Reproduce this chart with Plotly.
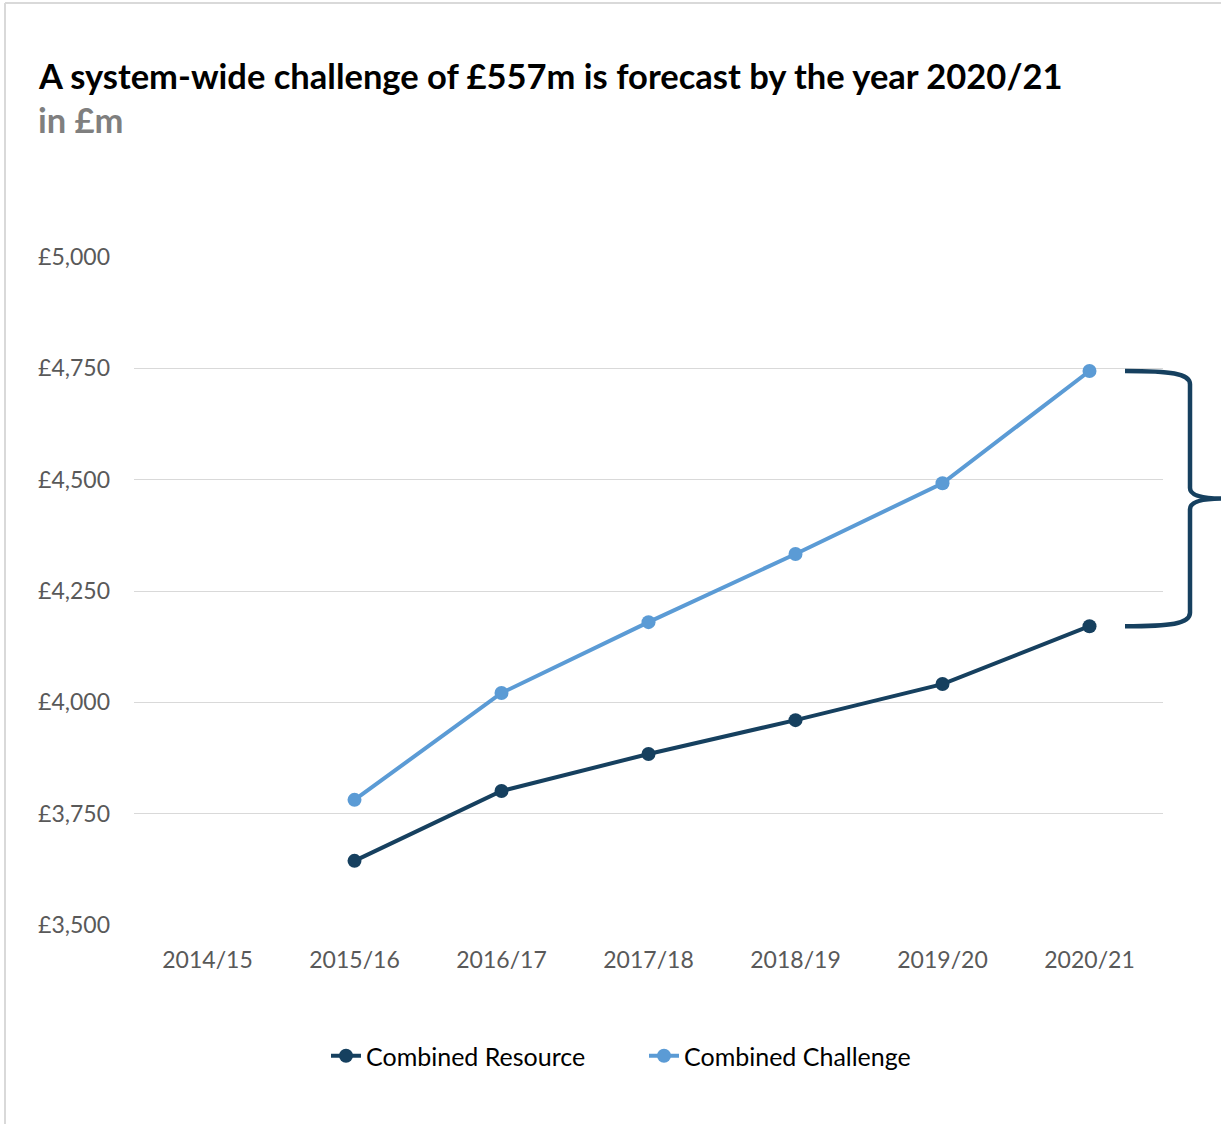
import plotly.graph_objects as go

years = ["2014/15", "2015/16", "2016/17", "2017/18", "2018/19", "2019/20", "2020/21"]
resource_years = ["2015/16", "2016/17", "2017/18", "2018/19", "2019/20", "2020/21"]
combined_resource = [3644, 3801, 3884, 3960, 4041, 4171]
combined_challenge = [3781, 4021, 4180, 4333, 4492, 4744]
y_ticks = [3500, 3750, 4000, 4250, 4500, 4750, 5000]
y_tick_labels = ["£3,500", "£3,750", "£4,000", "£4,250", "£4,500", "£4,750", "£5,000"]

DARK = "#16405F"
LIGHT = "#5B9BD5"
FONT = "Lato"

W, H = 1221, 1124
L, R, T, B = 134, 58, 257, 199
PW, PH = W - L - R, H - T - B

def px_x(x):
    return (x - L) / PW

def px_y(y):
    return (H - B - y) / PH

fig = go.Figure()
fig.add_trace(go.Scatter(
    x=resource_years, y=combined_resource, name="Combined Resource",
    mode="lines+markers", line=dict(color=DARK, width=4),
    marker=dict(size=14, color=DARK)))
fig.add_trace(go.Scatter(
    x=resource_years, y=combined_challenge, name="Combined Challenge",
    mode="lines+markers", line=dict(color=LIGHT, width=4),
    marker=dict(size=14, color=LIGHT)))

# brace between last values
ytop = combined_challenge[-1]
ybot = combined_resource[-1]
ymid = (ytop + ybot) / 2
d = 30
dm = 24
x0, x1, x2 = px_x(1125), px_x(1190), px_x(1224)
path = (f"M {x0},{ytop} C {px_x(1170)},{ytop} {x1},{ytop - 5} {x1},{ytop - d} "
        f"L {x1},{ymid + dm} C {x1},{ymid + 6} {px_x(1205)},{ymid} {x2},{ymid} "
        f"C {px_x(1205)},{ymid} {x1},{ymid - 6} {x1},{ymid - dm} "
        f"L {x1},{ybot + d} C {x1},{ybot + 5} {px_x(1170)},{ybot} {x0},{ybot}")

shapes = [
    dict(type="path", path=path, xref="paper", yref="y",
         line=dict(color=DARK, width=4.5)),
    dict(type="line", xref="paper", yref="paper",
         x0=px_x(5), x1=px_x(5), y0=px_y(3), y1=px_y(1130),
         line=dict(color="#D9D9D9", width=2)),
    dict(type="line", xref="paper", yref="paper",
         x0=px_x(5), x1=px_x(1230), y0=px_y(3), y1=px_y(3),
         line=dict(color="#D9D9D9", width=2)),
]

fig.update_layout(
    width=W, height=H,
    margin=dict(l=L, r=R, t=T, b=B),
    paper_bgcolor="white", plot_bgcolor="white",
    font=dict(family=FONT, size=23, color="#595959"),
    shapes=shapes,
    showlegend=True,
    legend=dict(orientation="h", x=326 / W, xref="container", xanchor="left",
                y=1 - 1056 / H, yref="container", yanchor="middle",
                font=dict(family=FONT, size=25, color="black"),
                itemwidth=30, entrywidth=273, entrywidthmode="pixels"),
    annotations=[
        dict(text="<b>A system-wide challenge of £557m is forecast by the year 2020/21</b>",
             xref="paper", yref="paper", x=px_x(36), y=px_y(75),
             xanchor="left", yanchor="middle", showarrow=False,
             font=dict(family=FONT, size=34.5, color="black")),
        dict(text="<b>in £m</b>",
             xref="paper", yref="paper", x=px_x(36), y=px_y(120),
             xanchor="left", yanchor="middle", showarrow=False,
             font=dict(family=FONT, size=34.5, color="#7F7F7F")),
    ],
)
fig.update_xaxes(type="category", categoryorder="array", categoryarray=years,
                 range=[-0.5, 6.5], showgrid=False, showline=False, zeroline=False,
                 ticks="", ticklabelstandoff=19,
                 tickfont=dict(family=FONT, size=23, color="#595959"))
fig.update_yaxes(range=[3500, 5000], tickvals=y_ticks, ticktext=y_tick_labels,
                 showgrid=True, gridcolor="#D9D9D9", gridwidth=1.3,
                 zeroline=False, showline=False, ticks="", ticklabelstandoff=23,
                 tickfont=dict(family=FONT, size=23, color="#595959"))

fig.write_html("out.html", config={"displayModeBar": False},
               post_script="document.body.style.margin='0px';")
